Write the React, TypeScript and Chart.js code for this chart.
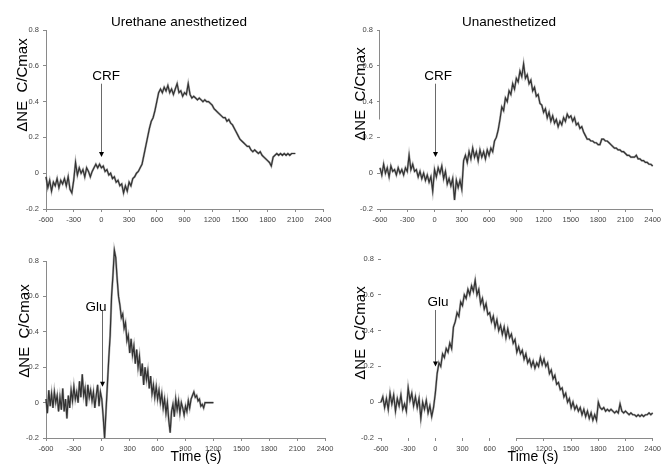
import { useEffect, useRef } from "react";
import { Chart, registerables } from "chart.js";

Chart.register(...registerables);

const W = 664;
const H = 476;
const FONT = "'Liberation Sans', Arial, sans-serif";
const AXIS_COLOR = "#8a8a8a";

// ---- axis definitions ----
const xMin = -600;
const xMax = 2400;
const xStep = 300;
const yMin = -0.2;
const yMax = 0.8;
const yStep = 0.2;

// ---- texts ----
const panelTitles = ["Urethane anesthetized", "Unanesthetized"];
const yAxisTitle = "\u0394NE  C/Cmax";
const xAxisTitle = "Time (s)";
const stimulusNames = ["CRF", "CRF", "Glu", "Glu"];
// arrow from this ΔNE value (top) down to the tip value, at stimulus time
const stimulusTime = 0;
const arrowTopValues = [0.5, 0.5, 0.52, 0.515];
const arrowTipValues = [0.09, 0.09, 0.09, 0.2];

// ---- series (sample start time, sample step in s, values) ----
const urethaneCrfStart = -600;
const urethaneCrfStep = 20;
const urethaneCrf = [
  -0.02, -0.08, -0.04, -0.1, -0.05, -0.07, -0.03, -0.08, -0.04, -0.06,
  -0.03, -0.07, -0.02, -0.09, -0.11, -0.04, 0.06, -0.01, 0.03, 0.0,
  0.02, -0.02, 0.03, 0.01, -0.02, 0.01, 0.03, 0.05, 0.03, 0.05,
  0.03, 0.04, 0.01, 0.02, -0.01, 0.0, -0.03, -0.02, -0.05, -0.04,
  -0.07, -0.06, -0.11, -0.07, -0.1, -0.05, -0.07, -0.03, -0.02, 0.0,
  0.01, 0.03, 0.05, 0.1, 0.15, 0.2, 0.25, 0.29, 0.31, 0.35,
  0.4, 0.45, 0.47, 0.45, 0.48, 0.46, 0.49, 0.45, 0.47, 0.44,
  0.47, 0.5, 0.45, 0.46, 0.43, 0.45, 0.44, 0.5, 0.44, 0.42,
  0.43, 0.42, 0.41, 0.42, 0.41, 0.4, 0.41, 0.4, 0.4, 0.39,
  0.38, 0.36, 0.35, 0.34, 0.33, 0.32, 0.31, 0.31, 0.29, 0.3,
  0.28, 0.27, 0.25, 0.23, 0.21, 0.19, 0.18, 0.17, 0.16, 0.15,
  0.15, 0.13, 0.12, 0.13, 0.12, 0.11, 0.12, 0.1, 0.09, 0.08,
  0.07, 0.06, 0.04, 0.09, 0.1, 0.11, 0.1, 0.11, 0.1, 0.11,
  0.1, 0.11, 0.1, 0.11, 0.11, 0.11,
];

const awakeCrfStart = -600;
const awakeCrfStep = 20;
const awakeCrf = [
  0.03, -0.01, 0.05, 0.0, 0.03, -0.02, 0.04, 0.01, 0.02, -0.01,
  0.03, 0.0, 0.02, -0.01, 0.03, 0.01, 0.1, 0.02, 0.05, 0.01,
  0.02, -0.02, 0.01, -0.03, 0.0, -0.04, -0.01, -0.05, -0.02, -0.1,
  0.02, -0.02, 0.03, 0.0, 0.04, -0.03, 0.01, -0.06, -0.03, -0.07,
  -0.03, -0.15, -0.04, -0.08, -0.04, -0.09, 0.07, 0.1, 0.06, 0.12,
  0.08, 0.14, 0.09, 0.12, 0.07, 0.13, 0.09, 0.12, 0.08, 0.13,
  0.1, 0.14, 0.12, 0.18, 0.2, 0.24, 0.3, 0.37, 0.35, 0.42,
  0.4, 0.46, 0.44, 0.5, 0.47, 0.53, 0.51, 0.57, 0.54, 0.61,
  0.53, 0.55, 0.5, 0.52, 0.46, 0.48, 0.43, 0.44, 0.39, 0.38,
  0.34, 0.36, 0.31, 0.34, 0.29, 0.32, 0.28, 0.3, 0.26, 0.29,
  0.27, 0.31, 0.29, 0.33, 0.31, 0.32, 0.29, 0.31, 0.27, 0.28,
  0.25, 0.26, 0.23, 0.21, 0.19, 0.19, 0.18, 0.18, 0.17, 0.17,
  0.16, 0.16, 0.19, 0.19, 0.18, 0.18, 0.17, 0.16, 0.15, 0.14,
  0.14, 0.13, 0.13, 0.12, 0.12, 0.11, 0.1, 0.1, 0.09, 0.09,
  0.09, 0.1, 0.08, 0.08, 0.07, 0.07, 0.06, 0.06, 0.05, 0.05,
  0.04,
];

const urethaneGluStart = -600;
const urethaneGluStep = 15;
const urethaneGlu = [
  0.02, -0.06, 0.07, -0.02, 0.05, -0.03, 0.06, 0.0, 0.04, -0.05,
  0.03, -0.04, 0.08, -0.05, 0.02, -0.09, 0.04, -0.03, 0.07, 0.01,
  0.09, 0.02, 0.06, 0.0, 0.12, 0.03, 0.16, 0.04, 0.08, -0.02,
  0.1, 0.03, 0.07, 0.01, 0.06, -0.03, 0.04, 0.1, -0.02, 0.06,
  0.02, -0.08, -0.2, -0.05, 0.1, 0.25, 0.38, 0.6, 0.72, 0.86,
  0.82, 0.7, 0.6, 0.55, 0.48, 0.5, 0.42, 0.45, 0.35, 0.38,
  0.28, 0.36, 0.27, 0.32, 0.22, 0.3, 0.2, 0.26, 0.15, 0.22,
  0.1, 0.2, 0.13, 0.18, 0.08, 0.15, 0.05, 0.1, 0.03, 0.09,
  0.02, 0.07, 0.0, 0.05, -0.03, 0.02, -0.06, 0.0, -0.1, -0.17,
  -0.05, -0.01, -0.08, 0.02, -0.04, 0.01, -0.06, 0.0, -0.03, -0.07,
  -0.02, -0.05, 0.01, -0.03, 0.02, 0.04, 0.06, 0.03, 0.04, 0.01,
  0.02, -0.02, -0.01, -0.03, 0.0, 0.0, 0.0, 0.0, 0.0, 0.0,
  0.0,
];

const awakeGluStart = -600;
const awakeGluStep = 20;
const awakeGlu = [
  0.0, 0.03, -0.03, 0.02, -0.04, 0.05, -0.01, 0.04, -0.05, 0.02,
  -0.02, 0.04, -0.04, -0.01, -0.05, 0.08, 0.01, 0.05, -0.02, 0.03,
  -0.03, 0.02, -0.09, 0.0, -0.04, 0.01, -0.06, -0.02, -0.08, -0.03,
  0.05, 0.16, 0.22, 0.2, 0.27, 0.25, 0.3, 0.28, 0.33, 0.3,
  0.42, 0.45, 0.5, 0.48, 0.56, 0.54, 0.6, 0.58, 0.63, 0.6,
  0.65, 0.62, 0.68, 0.6, 0.63, 0.55, 0.58, 0.52, 0.55, 0.49,
  0.5, 0.45, 0.48, 0.42, 0.46, 0.4, 0.43, 0.38, 0.42, 0.36,
  0.41, 0.36, 0.38, 0.33, 0.35, 0.28, 0.31, 0.27, 0.29, 0.24,
  0.27, 0.22, 0.24, 0.2, 0.23, 0.19, 0.22, 0.2, 0.25, 0.21,
  0.24, 0.2, 0.22, 0.16, 0.18, 0.13, 0.15, 0.1, 0.11, 0.07,
  0.08, 0.03, 0.05, 0.0, 0.02, -0.03, 0.0, -0.04, -0.02, -0.05,
  -0.03, -0.07, -0.04, -0.08, -0.05, -0.09, -0.06, -0.1, -0.07, -0.1,
  0.0, -0.03, -0.04, -0.03, -0.05, -0.04, -0.05, -0.04, -0.05, -0.06,
  -0.05, -0.06, -0.01, -0.05, -0.06, -0.05, -0.06, -0.07, -0.06, -0.07,
  -0.07, -0.08, -0.07, -0.08, -0.07, -0.08, -0.07, -0.07, -0.06, -0.07,
  -0.06,
];

type Pt = { x: number; y: number };
type Panel = {
  values: number[];
  start: number;
  step: number;
  area: { l: number; t: number; r: number; b: number };
  title?: { text: string; x: number; y: number };
  yTitle: { x: number; y: number };
  stim: { text: string; x: number; y: number; top: number; tip: number };
  xTitle?: { x: number; y: number };
  ySpan?: [number, number] | "none";
  xSpan?: [number, number] | "none";
};

const panels: Panel[] = [
  {
    values: urethaneCrf,
    start: urethaneCrfStart,
    step: urethaneCrfStep,
    area: { l: 46, t: 30, r: 323, b: 209 },
    title: { text: panelTitles[0], x: 179, y: 22 },
    yTitle: { x: 23, y: 85 },
    stim: { text: stimulusNames[0], x: 106, y: 76, top: arrowTopValues[0], tip: arrowTipValues[0] },
  },
  {
    values: awakeCrf,
    start: awakeCrfStart,
    step: awakeCrfStep,
    area: { l: 380, t: 30, r: 658, b: 209 },
    title: { text: panelTitles[1], x: 509, y: 22 },
    yTitle: { x: 361, y: 94 },
    stim: { text: stimulusNames[1], x: 438, y: 76, top: arrowTopValues[1], tip: arrowTipValues[1] },
    ySpan: [0.3, 0.8],
  },
  {
    values: urethaneGlu,
    start: urethaneGluStart,
    step: urethaneGluStep,
    area: { l: 46, t: 261, r: 325, b: 438 },
    yTitle: { x: 25, y: 331 },
    stim: { text: stimulusNames[2], x: 96, y: 307, top: arrowTopValues[2], tip: arrowTipValues[2] },
    xTitle: { x: 196, y: 457 },
  },
  {
    values: awakeGlu,
    start: awakeGluStart,
    step: awakeGluStep,
    area: { l: 381, t: 259, r: 660, b: 438 },
    yTitle: { x: 361, y: 333 },
    stim: { text: stimulusNames[3], x: 438, y: 302, top: arrowTopValues[3], tip: arrowTipValues[3] },
    xTitle: { x: 533, y: 457 },
    ySpan: "none",
    xSpan: [900, 2400],
  },
];

function makeOverlay(p: Panel) {
  return {
    id: "overlay",
    afterDatasetsDraw(chart: any) {
      const ctx: CanvasRenderingContext2D = chart.ctx;
      const xs = chart.scales.x;
      const ys = chart.scales.y;
      ctx.save();
      // partial axis lines
      ctx.strokeStyle = AXIS_COLOR;
      ctx.lineWidth = 1;
      if (Array.isArray(p.ySpan)) {
        const x = Math.round(xs.getPixelForValue(xMin)) - 0.5;
        ctx.beginPath();
        ctx.moveTo(x, ys.getPixelForValue(p.ySpan[1]));
        ctx.lineTo(x, ys.getPixelForValue(p.ySpan[0]));
        ctx.stroke();
      }
      if (Array.isArray(p.xSpan)) {
        const y = Math.round(ys.getPixelForValue(yMin)) + 0.5;
        ctx.beginPath();
        ctx.moveTo(xs.getPixelForValue(p.xSpan[0]), y);
        ctx.lineTo(xs.getPixelForValue(p.xSpan[1]), y);
        ctx.stroke();
      }
      // stimulus arrow
      const ax = Math.round(xs.getPixelForValue(stimulusTime)) + 0.5;
      const yTop = ys.getPixelForValue(p.stim.top);
      const yTip = ys.getPixelForValue(p.stim.tip);
      ctx.strokeStyle = "#6a6a6a";
      ctx.beginPath();
      ctx.moveTo(ax, yTop);
      ctx.lineTo(ax, yTip - 4);
      ctx.stroke();
      ctx.fillStyle = "#000";
      ctx.beginPath();
      ctx.moveTo(ax - 2.5, yTip - 5);
      ctx.lineTo(ax + 2.5, yTip - 5);
      ctx.lineTo(ax, yTip);
      ctx.closePath();
      ctx.fill();
      // texts
      ctx.fillStyle = "#000";
      ctx.textAlign = "center";
      ctx.textBaseline = "middle";
      ctx.font = `13.5px ${FONT}`;
      ctx.fillText(p.stim.text, p.stim.x, p.stim.y);
      if (p.title) ctx.fillText(p.title.text, p.title.x, p.title.y);
      if (p.xTitle) {
        ctx.font = `14px ${FONT}`;
        ctx.fillText(xAxisTitle, p.xTitle.x, p.xTitle.y);
      }
      ctx.save();
      ctx.translate(p.yTitle.x, p.yTitle.y);
      ctx.rotate(-Math.PI / 2);
      ctx.font = `15px ${FONT}`;
      ctx.fillText(yAxisTitle, 0, 0);
      ctx.restore();
      ctx.restore();
    },
  };
}

function PanelChart({ panel }: { panel: Panel }) {
  const ref = useRef<HTMLCanvasElement>(null);
  useEffect(() => {
    const c = ref.current;
    if (!c) return;
    const mk = (): Pt[] => panel.values.map((v, i) => ({ x: panel.start + i * panel.step, y: v }));
    const Y_W = 40;
    const X_H = 20;
    const a = panel.area;
    const chart = new Chart(c, {
      type: "line",
      data: {
        datasets: [
          { data: mk(), borderColor: "rgba(100,100,100,0.5)", borderWidth: 2.2, pointRadius: 0, tension: 0, clip: false },
          { data: mk(), borderColor: "#000", borderWidth: 1.2, pointRadius: 0, tension: 0, clip: false },
        ],
      },
      options: {
        animation: false,
        responsive: false,
        devicePixelRatio: 1,
        events: [],
        layout: { padding: { left: a.l - Y_W, top: a.t, right: W - a.r, bottom: H - a.b - X_H } },
        plugins: { legend: { display: false }, tooltip: { enabled: false }, title: { display: false } },
        scales: {
          x: {
            type: "linear",
            min: xMin,
            max: xMax,
            afterFit: (s: any) => {
              s.height = X_H;
            },
            ticks: {
              stepSize: xStep,
              autoSkip: false,
              maxRotation: 0,
              padding: 3,
              color: "#444",
              font: { size: 7.5, family: FONT },
              callback: (v: any) => String(Math.round(Number(v))),
            },
            grid: { drawOnChartArea: false, drawTicks: true, tickLength: 3, color: AXIS_COLOR },
            border: { display: panel.xSpan === undefined, color: AXIS_COLOR },
          },
          y: {
            type: "linear",
            min: yMin,
            max: yMax,
            afterFit: (s: any) => {
              s.width = Y_W;
            },
            ticks: {
              stepSize: yStep,
              padding: 4,
              color: "#444",
              font: { size: 7.5, family: FONT },
              callback: (v: any) => String(Math.round(Number(v) * 10) / 10),
            },
            grid: { drawOnChartArea: false, drawTicks: true, tickLength: 3, color: AXIS_COLOR },
            border: { display: panel.ySpan === undefined, color: AXIS_COLOR },
          },
        },
      },
      plugins: [makeOverlay(panel)],
    } as any);
    return () => chart.destroy();
  }, [panel]);
  return (
    <canvas
      ref={ref}
      width={W}
      height={H}
      style={{ position: "absolute", left: 0, top: 0, width: W, height: H }}
    />
  );
}

export default function App() {
  return (
    <div style={{ position: "absolute", left: 0, top: 0, width: W, height: H, background: "#fff" }}>
      {panels.map((p, i) => (
        <PanelChart key={i} panel={p} />
      ))}
    </div>
  );
}
